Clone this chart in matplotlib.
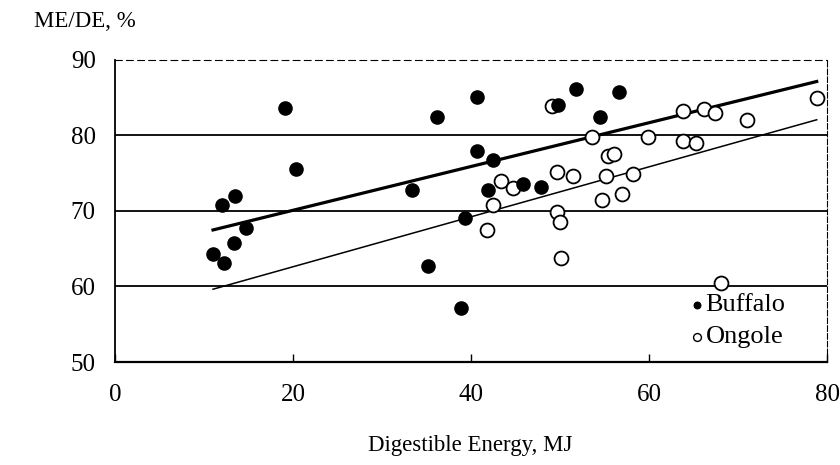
import matplotlib.pyplot as plt
import numpy as np

# data
buffalo_x = [19.1, 20.3, 13.5, 12.0, 14.7, 13.4, 11.0, 12.2, 40.6, 36.1, 51.8, 40.7,
             42.4, 33.4, 41.9, 45.8, 47.8, 39.3, 35.1, 38.8, 49.8, 56.6, 54.5]
buffalo_y = [83.6, 75.6, 72.0, 70.8, 67.7, 65.8, 64.3, 63.1, 85.1, 82.4, 86.1, 77.9,
             76.8, 72.8, 72.8, 73.6, 73.2, 69.1, 62.7, 57.2, 84.0, 85.7, 82.4]

ongole_x = [49.1, 53.6, 43.3, 44.7, 49.6, 51.4, 42.4, 41.8, 49.6, 50.0, 50.1, 55.4,
            56.0, 55.1, 54.7, 56.9, 58.2, 59.9, 63.8, 66.1, 67.4, 63.8, 65.2, 71.0,
            78.8, 68.0]
ongole_y = [83.9, 79.8, 74.0, 73.0, 75.2, 74.6, 70.8, 67.5, 69.9, 68.6, 63.8, 77.3,
            77.5, 74.6, 71.5, 72.3, 74.9, 79.8, 83.2, 83.5, 83.0, 79.3, 79.0, 82.1,
            84.9, 60.5]

# regression lines (intercept, slope) and their x range
buffalo_fit = [64.3, 0.29]
ongole_fit = [56.0, 0.331]
fit_x = [11.0, 78.8]

plt.rcParams['font.family'] = ['Liberation Serif', 'DejaVu Serif']

fig = plt.figure(figsize=(8.4, 4.65), dpi=100)
ax = fig.add_axes([0.137, 0.2215, 0.848, 0.6495])

for yv in [60, 70, 80]:
    ax.axhline(yv, color='black', lw=1.3, zorder=1)

fx = np.array(fit_x)
ax.plot(fx, buffalo_fit[0] + buffalo_fit[1] * fx, color='black', lw=2.3, zorder=2)
ax.plot(fx, ongole_fit[0] + ongole_fit[1] * fx, color='black', lw=1.1, zorder=2)

ax.scatter(ongole_x, ongole_y, s=100, facecolors='white', edgecolors='black',
           linewidths=1.3, zorder=3)
ax.scatter(buffalo_x, buffalo_y, s=90, color='black', zorder=4)

ax.set_xlim(0, 80)
ax.set_ylim(50, 90)
ax.set_xticks([0, 20, 40, 60, 80])
ax.set_yticks([50, 60, 70, 80, 90])
ax.tick_params(axis='x', direction='in', length=6, width=1, pad=16, labelsize=18)
ax.tick_params(axis='y', length=0, pad=14, labelsize=18)

ax.spines['left'].set_linewidth(1.3)
ax.spines['bottom'].set_linewidth(1.6)
ax.spines['top'].set_linestyle((0, (6, 4)))
ax.spines['top'].set_linewidth(0.8)
ax.spines['right'].set_linestyle((0, (5, 2)))
ax.spines['right'].set_linewidth(0.8)

# legend drawn as text with marker glyphs
ax.scatter([65.4], [57.5], s=22, color='black', zorder=5)
ax.text(66.3, 57.5, 'Buffalo', fontsize=19, va='center', ha='left')
ax.scatter([65.4], [53.3], s=32, facecolors='white', edgecolors='black',
           linewidths=1, zorder=5)
ax.text(66.3, 53.3, 'Ongole', fontsize=19, va='center', ha='left')

fig.text(0.04, 0.953, 'ME/DE, %', fontsize=16.5, va='center', ha='left')
fig.text(0.56, 0.042, 'Digestible Energy, MJ', fontsize=16.5, va='center', ha='center')

fig.savefig('out.png', dpi=100)
